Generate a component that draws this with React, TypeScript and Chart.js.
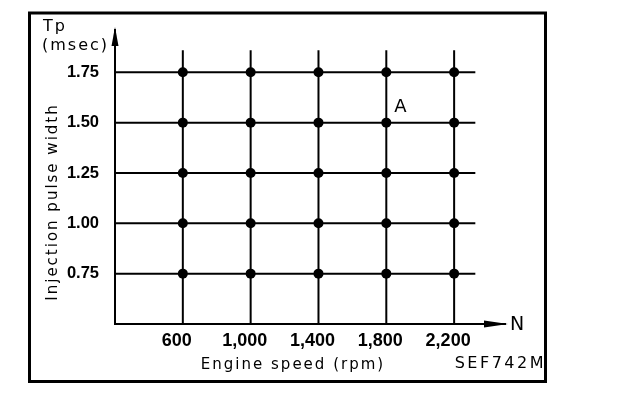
import React, { useEffect, useRef } from 'react';
import { Chart, registerables } from 'chart.js';

Chart.register(...registerables);

// ---- data ----
const SPEEDS = [600, 1000, 1400, 1800, 2200];
const PULSE_WIDTHS = [0.75, 1.0, 1.25, 1.5, 1.75];
const X_TICK_LABELS = ['600', '1,000', '1,400', '1,800', '2,200'];
const Y_TICK_LABELS = ['0.75', '1.00', '1.25', '1.50', '1.75'];
const X_MIN = 200;
const X_MAX = 2500;
const Y_MIN = 0.5;
const Y_MAX = 1.96;
const GRID_X_END = 2325;
const GRID_Y_END = 1.86;
const POINT_A = { x: 1800, y: 1.5, label: 'A' };

const FONT = 'DejaVu Sans';
const TICK_FONT = 'Liberation Sans';

const decorPlugin = {
  id: 'decor',
  afterDraw(chart: any) {
    const ctx = chart.ctx as CanvasRenderingContext2D;
    const xs = chart.scales.x;
    const ys = chart.scales.y;
    const area = chart.chartArea;
    ctx.save();
    ctx.fillStyle = '#000';
    ctx.strokeStyle = '#000';

    // outer frame
    ctx.lineWidth = 3;
    ctx.strokeRect(29.5, 13, 516, 368.5);

    // y axis arrow
    const ax = area.left;
    ctx.beginPath();
    ctx.moveTo(ax, area.top - 3);
    ctx.lineTo(ax - 3.5, area.top + 16);
    ctx.lineTo(ax + 3.5, area.top + 16);
    ctx.closePath();
    ctx.fill();

    // x axis arrow
    const ay = area.bottom;
    ctx.beginPath();
    ctx.moveTo(area.right + 3, ay);
    ctx.lineTo(area.right - 21, ay - 3.5);
    ctx.lineTo(area.right - 21, ay + 3.5);
    ctx.closePath();
    ctx.fill();

    (ctx as any).letterSpacing = '2px';
    ctx.textBaseline = 'alphabetic';

    // axis end labels
    ctx.font = `19px "${FONT}"`;
    ctx.textAlign = 'left';
    ctx.fillText('N', area.right + 5, ay + 6);

    ctx.font = `16px "${FONT}"`;
    ctx.fillText('Tp', 43, 31);
    ctx.fillText('(msec)', 42, 50);

    // point A label
    ctx.font = `18px "${FONT}"`;
    ctx.fillText(POINT_A.label, xs.getPixelForValue(POINT_A.x) + 8, ys.getPixelForValue(POINT_A.y) - 11);

    // axis titles
    ctx.font = `15px "${FONT}"`;
    ctx.textAlign = 'center';
    ctx.fillText('Engine speed (rpm)', 293, 369);

    ctx.save();
    ctx.translate(57, 202);
    ctx.rotate(-Math.PI / 2);
    ctx.textAlign = 'center';
    ctx.fillText('Injection pulse width', 0, 0);
    ctx.restore();

    (ctx as any).letterSpacing = '2.5px';
    ctx.font = `16px "${FONT}"`;
    ctx.textAlign = 'right';
    ctx.fillText('SEF742M', 546, 368);

    ctx.restore();
  },
};

export default function App() {
  const ref = useRef<HTMLCanvasElement | null>(null);

  useEffect(() => {
    if (!ref.current) return;

    const hLines = PULSE_WIDTHS.map((y) => ({
      type: 'line' as const,
      data: [
        { x: X_MIN, y },
        { x: GRID_X_END, y },
      ],
      borderColor: '#000',
      borderWidth: 2,
      pointRadius: 0,
      fill: false,
    }));
    const vLines = SPEEDS.map((x) => ({
      type: 'line' as const,
      data: [
        { x, y: Y_MIN },
        { x, y: GRID_Y_END },
      ],
      borderColor: '#000',
      borderWidth: 2,
      pointRadius: 0,
      fill: false,
    }));
    const points: { x: number; y: number }[] = [];
    SPEEDS.forEach((x) => PULSE_WIDTHS.forEach((y) => points.push({ x, y })));

    const chart = new Chart(ref.current, {
      type: 'scatter',
      data: {
        datasets: [
          ...hLines,
          ...vLines,
          {
            type: 'scatter' as const,
            data: points,
            pointRadius: 5,
            pointBackgroundColor: '#000',
            pointBorderColor: '#000',
            pointBorderWidth: 0,
          },
        ] as any,
      },
      options: {
        responsive: false,
        animation: false,
        events: [],
        layout: { padding: { left: 0, top: 30, right: 119, bottom: 0 } },
        plugins: {
          legend: { display: false },
          tooltip: { enabled: false },
          title: { display: false },
        },
        scales: {
          x: {
            type: 'linear',
            min: X_MIN,
            max: X_MAX,
            grid: { display: false },
            border: { display: true, color: '#000', width: 2 },
            afterBuildTicks: (s: any) => {
              s.ticks = SPEEDS.map((v) => ({ value: v }));
            },
            afterFit: (s: any) => {
              s.height = 74;
            },
            ticks: {
              color: '#000',
              padding: -2,
              labelOffset: -6,
              autoSkip: false,
              maxRotation: 0,
              font: { family: TICK_FONT, size: 18, weight: 'bold' },
              callback: (v: any) => X_TICK_LABELS[SPEEDS.indexOf(Number(v))] ?? '',
            },
          },
          y: {
            type: 'linear',
            min: Y_MIN,
            max: Y_MAX,
            grid: { display: false },
            border: { display: true, color: '#000', width: 2 },
            afterBuildTicks: (s: any) => {
              s.ticks = PULSE_WIDTHS.map((v) => ({ value: v }));
            },
            afterFit: (s: any) => {
              s.width = 115;
            },
            ticks: {
              color: '#000',
              padding: 8,
              autoSkip: false,
              font: { family: TICK_FONT, size: 16.5, weight: 'bold' },
              callback: (v: any) => Y_TICK_LABELS[PULSE_WIDTHS.indexOf(Number(v))] ?? '',
            },
          },
        },
      },
      plugins: [decorPlugin],
    });

    return () => chart.destroy();
  }, []);

  return (
    <canvas
      ref={ref}
      width={624}
      height={398}
      style={{ position: 'absolute', left: 0, top: 0, width: 624, height: 398, display: 'block', background: '#fff' }}
    />
  );
}
